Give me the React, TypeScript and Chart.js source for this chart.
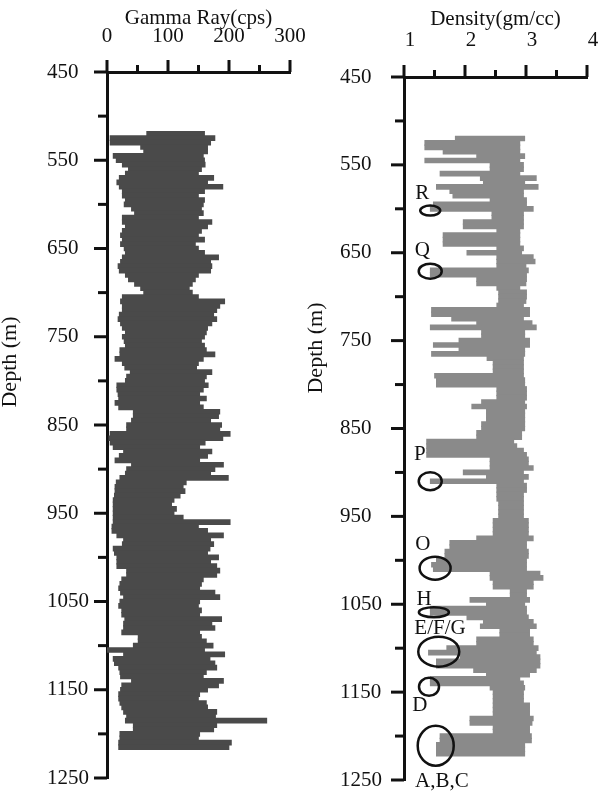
import React, { useEffect, useRef } from 'react';
import { Chart, registerables } from 'chart.js';

Chart.register(...registerables);

// ---------- data ----------
const DEPTHS = [
  520, 525, 530, 535, 540, 545, 550, 555, 560, 565, 570, 575, 580, 585, 590, 595, 600, 605, 610, 615,
  620, 625, 630, 635, 640, 645, 650, 655, 660, 665, 670, 675, 680, 685, 690, 695, 700, 705, 710, 715,
  720, 725, 730, 735, 740, 745, 750, 755, 760,
  765, 770, 775, 780, 785, 790, 795, 800, 805, 810, 815, 820, 825, 830, 835, 840, 845, 850, 855, 860,
  865, 870, 875, 880, 885, 890, 895, 900, 905, 910, 915, 920, 925, 930, 935, 940, 945, 950, 955, 960,
  965, 970, 975, 980, 985, 990, 995, 1000, 1005, 1010,
  1015, 1020, 1025, 1030, 1035, 1040, 1045, 1050, 1055, 1060, 1065, 1070, 1075, 1080, 1085, 1090,
  1095, 1100, 1105, 1110, 1115, 1120, 1125, 1130, 1135, 1140, 1145, 1150, 1155, 1160, 1165, 1170,
  1175, 1180, 1185, 1190, 1195, 1200, 1205, 1210, 1215, 1220,
];

// Gamma ray envelope (cps): low edge and high edge at each depth
const GR_LOW = [
  65, 5, 5, 55, 60, 10, 15, 25, 35, 30, 20, 16, 20, 25, 25, 30, 28, 40, 45, 25,
  25, 30, 25, 22, 25, 22, 28, 30, 25, 22, 18, 20, 30, 35, 45, 55, 60, 25, 22, 25,
  25, 20, 18, 22, 25, 30, 25, 28, 30,
  21, 21, 13, 25, 29, 38, 32, 30, 16, 16, 18, 19, 13, 19, 43, 43, 40, 32, 32, 5,
  3, 5, 10, 27, 20, 13, 40, 32, 30, 21, 15, 13, 13, 12, 10, 10, 10, 10, 10, 10,
  8, 8, 16, 27, 25, 10, 12, 16, 16, 16,
  32, 32, 24, 21, 19, 22, 27, 21, 19, 24, 24, 29, 27, 27, 24, 51,
  51, 43, 0, 27, 10, 12, 19, 21, 22, 40, 24, 22, 19, 19, 21, 24,
  27, 32, 30, 43, 43, 21, 21, 19, 19, null,
];
const GR_HIGH = [
  160, 177, 170, 165, 165, 158, 160, 161, 155, 150, 175, 165, 190, 160, 150, 160, 158, 155, 158, 150,
  172, 165, 155, 150, 160, 145, 150, 160, 183, 170, 172, 170, 150, 145, 140, 135, 140, 150, 193, 185,
  180, 175, 180, 172, 165, 163, 160, 155, 160,
  163, 177, 158, 150, 147, 172, 163, 160, 166, 158, 152, 163, 152, 158, 185, 183, 170, 188, 185, 202,
  190, 161, 152, 172, 165, 152, 191, 177, 170, 199, 130, 125, 128, 120, 110, 106, 114, 110, 125, 202,
  150, 165, 191, 170, 175, 169, 165, 183, 170, 180,
  185, 180, 158, 155, 152, 177, 185, 152, 150, 155, 152, 188, 172, 177, 152, 155,
  163, 174, 160, 193, 169, 177, 180, 163, 158, 191, 183, 165, 152, 150, 163, 165,
  180, 178, 262, 180, 175, 152, 150, 204, 200, null,
];

// Density envelope (gm/cc)
const RHO_LOW = [
  1.84, 1.34, 1.34, 1.64, 2.19, 1.34, 2.41, 2.41, 1.59, 2.25, 2.30, 1.53, 1.75, 1.80, 2.41, 1.48, 1.43, 2.44, 2.44, 1.97,
  1.97, 2.52, 1.64, 1.64, 1.64, 2.52, 2.03, 2.52, 2.52, 2.52, 1.43, 1.43, 2.19, 2.19, 2.52, 2.55, 2.55, 2.55, 2.52, 1.45,
  1.45, 1.78, 2.19, 1.43, 2.27, 2.27, 1.90, 1.48, 1.90,
  1.45, 2.36, 2.46, 2.46, 2.46, 1.50, 1.53, 1.53, 2.52, 2.52, 2.52, 2.27, 2.11, 2.35, 2.35, 2.35, 2.27, 2.27, 2.19, 2.19,
  1.37, 1.37, 1.37, 1.37, 2.41, 2.41, 2.41, 1.97, 2.35, 1.43, 2.52, 2.52, 2.52, 2.52, 2.55, 2.55, 2.55, 2.55, 2.46, 2.46,
  2.46, 2.46, 2.19, 1.75, 1.75, 1.67, 1.67, 1.53, 1.45, 1.48,
  2.41, 2.41, 2.46, 2.46, 2.74, 2.74, 2.08, 2.35, 1.43, 1.43, 2.03, 2.30, 2.25, 2.57, 2.57, 2.19,
  2.19, 1.70, 1.40, 1.92, 1.53, 1.53, 2.14, 2.35, 1.43, 1.43, 2.41, 2.46, 2.46, 2.46, 2.46, 2.46,
  2.46, 2.08, 2.08, 2.46, 2.46, 1.59, 1.59, 1.53, 1.53, 1.53,
];
const RHO_HIGH = [
  2.98, 2.90, 2.90, 2.90, 2.98, 2.90, 2.96, 2.96, 2.90, 3.17, 2.98, 3.20, 2.96, 2.96, 3.01, 3.01, 3.12, 2.96, 2.96, 2.96,
  2.96, 2.90, 2.90, 2.90, 2.90, 2.96, 2.93, 3.12, 3.15, 3.00, 3.04, 3.01, 3.01, 3.00, 2.90, 3.01, 3.01, 3.00, 2.96, 3.06,
  3.06, 2.96, 3.10, 3.17, 2.98, 2.98, 3.06, 3.06, 2.98,
  2.98, 2.96, 2.96, 2.96, 2.96, 2.96, 2.98, 2.98, 3.01, 3.01, 3.01, 2.98, 3.01, 2.98, 2.98, 2.98, 2.98, 2.98, 2.93, 2.93,
  2.80, 2.85, 2.96, 3.01, 3.04, 3.04, 3.12, 2.96, 3.04, 2.96, 3.01, 3.01, 2.96, 2.96, 2.96, 2.96, 2.96, 2.96, 3.04, 3.04,
  3.04, 3.04, 3.12, 3.01, 3.01, 3.04, 3.04, 3.01, 3.01, 3.01,
  3.23, 3.28, 3.12, 3.12, 3.01, 3.01, 3.06, 2.98, 3.01, 3.01, 3.04, 3.12, 3.17, 3.06, 3.06, 3.12,
  3.12, 3.20, 3.17, 3.23, 3.23, 3.23, 3.17, 3.06, 2.90, 2.96, 2.98, 2.96, 2.96, 2.96, 3.06, 3.06,
  3.06, 3.12, 3.10, 3.06, 3.06, 3.09, 3.09, 2.98, 2.98, 2.98,
];

// Tick labels
const DEPTH_TICKS = [450, 550, 650, 750, 850, 950, 1050, 1150, 1250];
const GR_TICKS = [0, 100, 200, 300];
const RHO_TICKS = [1, 2, 3, 4];

// Annotations on the density log
const ANNOT_LABELS = ['R', 'Q', 'P', 'O', 'H', 'E/F/G', 'D', 'A,B,C'];
const ANNOT_RHO = [1.43, 1.43, 1.43, 1.51, 1.49, 1.57, 1.41, 1.52];
const ANNOT_DEPTH = [602, 671, 910, 1009, 1059, 1104, 1144, 1211];
const LABEL_RHO = [1.30, 1.30, 1.26, 1.31, 1.33, 1.59, 1.26, 1.62];
const LABEL_DEPTH = [583, 647, 880, 982, 1045, 1078, 1165, 1252];
const ELLIPSE_W = [20, 23, 23, 31, 30, 41, 20, 36];
const ELLIPSE_H = [10, 15, 18, 23, 10, 30, 18, 40];

// ---------- styling ----------
const FONT_FAMILY = "'Liberation Serif', 'Times New Roman', serif";
const FONT_SIZE = 21;
const INK = '#111111';
Chart.defaults.font.family = FONT_FAMILY;
Chart.defaults.font.size = FONT_SIZE;
Chart.defaults.color = INK;

function tickMarksPlugin(xMajor: number, xMinor: number, yMajor: number, yMinor: number) {
  return {
    id: 'tickMarks',
    afterDraw(chart: any) {
      const { ctx, chartArea } = chart;
      const xs = chart.scales.x;
      const ys = chart.scales.y;
      ctx.save();
      ctx.strokeStyle = INK;
      ctx.lineWidth = 3;
      const seg = (x1: number, y1: number, x2: number, y2: number) => {
        ctx.beginPath();
        ctx.moveTo(x1, y1);
        ctx.lineTo(x2, y2);
        ctx.stroke();
      };
      const xv = xs.ticks.map((t: any) => t.value);
      xv.forEach((v: number) => {
        const p = xs.getPixelForValue(v);
        seg(p, chartArea.top, p, chartArea.top - xMajor);
      });
      for (let i = 0; i < xv.length - 1; i++) {
        const p = xs.getPixelForValue((xv[i] + xv[i + 1]) / 2);
        seg(p, chartArea.top, p, chartArea.top - xMinor);
      }
      const yv = ys.ticks.map((t: any) => t.value);
      yv.forEach((v: number) => {
        const p = ys.getPixelForValue(v);
        seg(chartArea.left, p, chartArea.left - yMajor, p);
      });
      for (let i = 0; i < yv.length - 1; i++) {
        const p = ys.getPixelForValue((yv[i] + yv[i + 1]) / 2);
        seg(chartArea.left, p, chartArea.left - yMinor, p);
      }
      ctx.restore();
    },
  };
}

function sideTitlePlugin(text: string, cx: number, cy: number) {
  return {
    id: 'sideTitle',
    afterDraw(chart: any) {
      const { ctx } = chart;
      ctx.save();
      ctx.translate(cx, cy);
      ctx.rotate(-Math.PI / 2);
      ctx.font = `22px ${FONT_FAMILY}`;
      ctx.fillStyle = INK;
      ctx.textAlign = 'center';
      ctx.textBaseline = 'middle';
      ctx.fillText(text, 0, 0);
      ctx.restore();
    },
  };
}

const annotationPlugin = {
  id: 'annotations',
  afterDraw(chart: any) {
    const { ctx } = chart;
    const xs = chart.scales.x;
    const ys = chart.scales.y;
    ctx.save();
    ctx.strokeStyle = INK;
    ctx.lineWidth = 2.5;
    ctx.fillStyle = INK;
    ctx.font = `${FONT_SIZE}px ${FONT_FAMILY}`;
    ctx.textAlign = 'center';
    ctx.textBaseline = 'middle';
    ANNOT_LABELS.forEach((label, i) => {
      const x = xs.getPixelForValue(ANNOT_RHO[i]);
      const y = ys.getPixelForValue(ANNOT_DEPTH[i]);
      ctx.beginPath();
      ctx.ellipse(x, y, ELLIPSE_W[i] / 2, ELLIPSE_H[i] / 2, 0, 0, Math.PI * 2);
      ctx.stroke();
      const lx = xs.getPixelForValue(LABEL_RHO[i]);
      const ly = ys.getPixelForValue(LABEL_DEPTH[i]);
      ctx.fillText(label, lx, ly);
    });
    ctx.restore();
  },
};

function buildConfig(opts: {
  low: (number | null)[];
  high: (number | null)[];
  color: string;
  xMin: number;
  xMax: number;
  xTicks: number[];
  title: string;
  titleTop: number;
  labelPad: number;
  labelOffset: number;
  padLeft: number;
  yWidth: number;
  xHeight: number;
  padRight: number;
  padBottom: number;
  plugins: any[];
}) {
  const points = DEPTHS.map((d, i) =>
    opts.low[i] == null || opts.high[i] == null ? null : { y: d, x: [opts.low[i], opts.high[i]] }
  ).filter((p) => p !== null);
  return {
    type: 'bar',
    data: {
      datasets: [
        {
          data: points,
          backgroundColor: opts.color,
          borderWidth: 0,
          barThickness: 5,
        },
      ],
    },
    options: {
      responsive: false,
      animation: false,
      indexAxis: 'y',
      layout: {
        padding: { left: opts.padLeft, right: opts.padRight, top: 0, bottom: opts.padBottom },
      },
      plugins: {
        legend: { display: false },
        tooltip: { enabled: false },
      },
      scales: {
        x: {
          type: 'linear',
          position: 'top',
          min: opts.xMin,
          max: opts.xMax,
          grid: { display: false },
          border: { display: true, width: 3, color: INK },
          title: {
            display: true,
            text: opts.title,
            color: INK,
            font: { size: FONT_SIZE, family: FONT_FAMILY },
            padding: { top: opts.titleTop, bottom: 0 },
          },
          ticks: {
            padding: opts.labelPad,
            labelOffset: opts.labelOffset,
            maxRotation: 0,
            autoSkip: false,
            color: INK,
            callback: (v: any) => String(v),
          },
          afterBuildTicks: (scale: any) => {
            scale.ticks = opts.xTicks.map((v) => ({ value: v }));
          },
          afterFit: (scale: any) => {
            scale.height = opts.xHeight;
            scale.paddingLeft = 0;
            scale.paddingRight = 0;
          },
        },
        y: {
          type: 'linear',
          reverse: true,
          min: 450,
          max: 1250,
          offset: false,
          grid: { display: false },
          border: { display: true, width: 3, color: INK },
          ticks: {
            crossAlign: 'far',
            autoSkip: false,
            color: INK,
            callback: (v: any) => String(v),
          },
          afterBuildTicks: (scale: any) => {
            scale.ticks = DEPTH_TICKS.map((v) => ({ value: v }));
          },
          afterFit: (scale: any) => {
            scale.width = opts.yWidth;
            scale.paddingTop = 0;
            scale.paddingBottom = 0;
          },
        },
      },
    },
    plugins: opts.plugins,
  } as any;
}

export default function App() {
  const leftRef = useRef<HTMLCanvasElement | null>(null);
  const rightRef = useRef<HTMLCanvasElement | null>(null);

  useEffect(() => {
    const left = new Chart(
      leftRef.current as HTMLCanvasElement,
      buildConfig({
        low: GR_LOW,
        high: GR_HIGH,
        color: '#4a4a4a',
        xMin: 0,
        xMax: 300,
        xTicks: GR_TICKS,
        title: 'Gamma Ray(cps)',
        titleTop: 6,
        labelPad: 15,
        labelOffset: 0,
        padLeft: 47,
        yWidth: 60,
        xHeight: 72,
        padRight: 15,
        padBottom: 17,
        plugins: [tickMarksPlugin(12, 7, 13, 9), sideTitlePlugin('Depth (m)', 10, 362)],
      })
    );
    const right = new Chart(
      rightRef.current as HTMLCanvasElement,
      buildConfig({
        low: RHO_LOW,
        high: RHO_HIGH,
        color: '#8a8a8a',
        xMin: 1,
        xMax: 4,
        xTicks: RHO_TICKS,
        title: 'Density(gm/cc)',
        titleTop: 7,
        labelPad: 16,
        labelOffset: 6,
        padLeft: 40,
        yWidth: 64,
        xHeight: 77,
        padRight: 24,
        padBottom: 15,
        plugins: [tickMarksPlugin(12, 7, 13, 9), sideTitlePlugin('Depth (m)', 16, 348), annotationPlugin],
      })
    );
    return () => {
      left.destroy();
      right.destroy();
    };
  }, []);

  return (
    <div
      style={{
        position: 'fixed',
        left: 0,
        top: 0,
        width: 611,
        height: 795,
        background: '#ffffff',
        overflow: 'hidden',
      }}
    >
      <canvas ref={leftRef} width={305} height={795} style={{ position: 'absolute', left: 0, top: 0 }} />
      <canvas ref={rightRef} width={311} height={795} style={{ position: 'absolute', left: 300, top: 0 }} />
    </div>
  );
}
